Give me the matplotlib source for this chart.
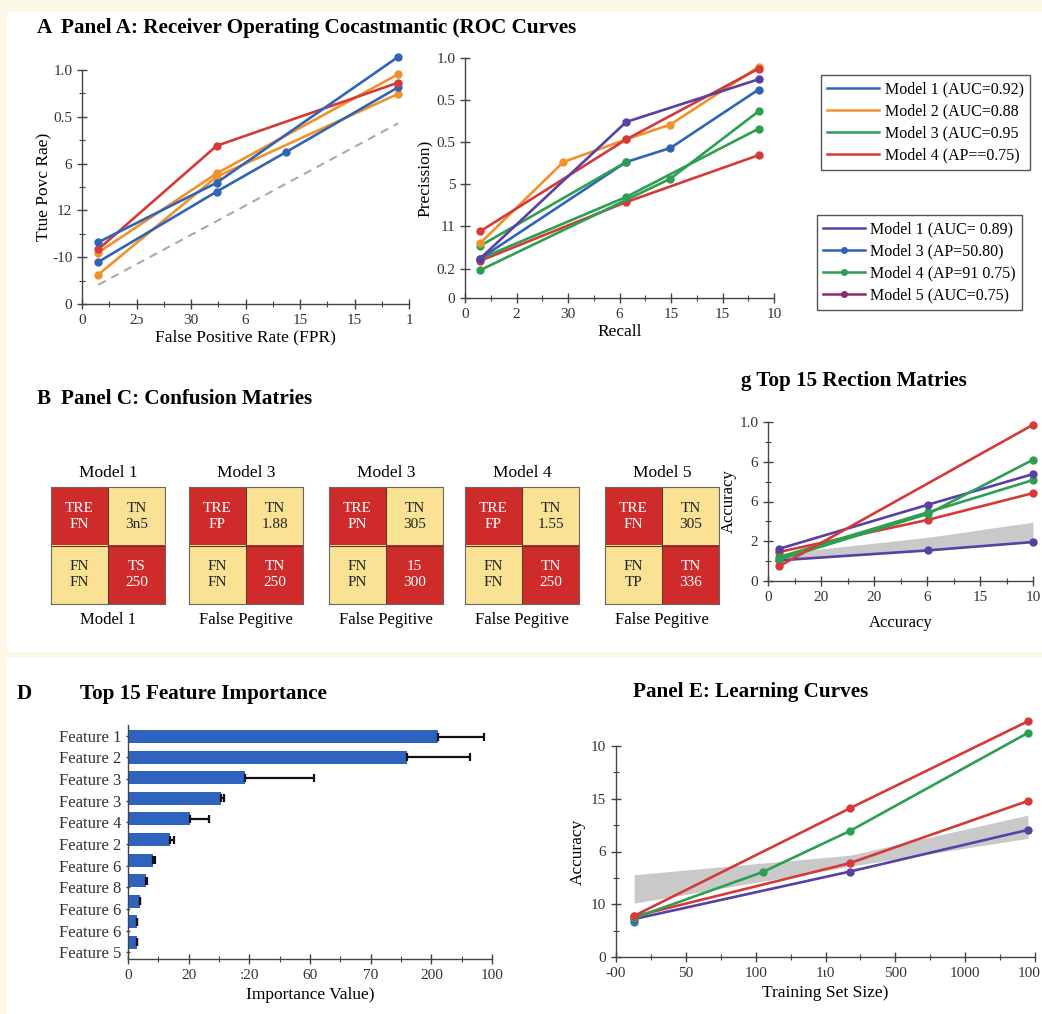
import numpy as np
import matplotlib
matplotlib.use("Agg")
import matplotlib.pyplot as plt
import matplotlib.transforms as mtransforms
from matplotlib.colors import ListedColormap
from matplotlib.lines import Line2D
from matplotlib.patches import Rectangle
from matplotlib.ticker import AutoMinorLocator

plt.rcParams["font.family"] = ["Liberation Serif", "DejaVu Serif"]

BLUE = "#3164b6"
ORANGE = "#f0922c"
GREEN = "#2e9e52"
RED = "#d63a38"
PURPLE = "#5a3fa4"
MAGENTA = "#8b2a6e"
GREY = "#c9c9c9"

# ---- Panel A: ROC curves ----
roc_xticklabels = ["0", "2\u0254", "30", "6", "15", "15", "1"]
roc_yticklabels = ["0", "-10", "12", "6", "0.5", "1.0"]
roc_blue_a_x = [0.30, 2.47, 5.80]
roc_blue_a_y = [1.32, 2.59, 5.28]
roc_blue_b_x = [0.30, 2.47, 3.75, 5.80]
roc_blue_b_y = [0.90, 2.40, 3.25, 4.63]
roc_red_x = [0.30, 2.47, 5.80]
roc_red_y = [1.17, 3.38, 4.73]
roc_orange_a_x = [0.30, 2.47, 5.80]
roc_orange_a_y = [1.10, 2.79, 4.91]
roc_orange_b_x = [0.30, 2.47, 5.80]
roc_orange_b_y = [0.63, 2.72, 4.49]
roc_diag_x = [0.30, 5.80]
roc_diag_y = [0.41, 3.86]

# ---- Panel A: precision-recall ----
pr_xticklabels = ["0", "2", "30", "6", "15", "15", "10"]
pr_yticks = [0, 0.68, 1.68, 2.67, 3.67, 4.65, 5.63]
pr_yticklabels = ["0", "0.2", "11", "5", "0.5", "0.5", "1.0"]
pr_orange_x = [0.29, 1.91, 3.13, 3.99, 5.70]
pr_orange_y = [1.28, 3.19, 3.72, 4.07, 5.42]
pr_purple_x = [0.29, 3.13, 5.70]
pr_purple_y = [0.92, 4.13, 5.13]
pr_red_a_x = [0.29, 3.13, 5.70]
pr_red_a_y = [1.56, 3.72, 5.38]
pr_blue_x = [0.29, 3.13, 3.99, 5.70]
pr_blue_y = [0.92, 3.19, 3.52, 4.89]
pr_green_a_x = [0.29, 3.13]
pr_green_a_y = [1.22, 3.19]
pr_green_b_x = [0.29, 3.99, 5.70]
pr_green_b_y = [0.65, 2.80, 4.38]
pr_green_c_x = [0.29, 3.13, 5.70]
pr_green_c_y = [0.92, 2.37, 3.97]
pr_red_b_x = [0.29, 3.13, 5.70]
pr_red_b_y = [0.87, 2.25, 3.35]

legend1_labels = ["Model 1 (AUC=0.92)", "Model 2 (AUC=0.88", "Model 3 (AUC=0.95", "Model 4 (AP==0.75)"]
legend2_labels = ["Model 1 (AUC= 0.89)", "Model 3 (AP=50.80)", "Model 4 (AP=91 0.75)", "Model 5 (AUC=0.75)"]

# ---- Panel C: confusion matrices ----
cm_titles = ["Model 1", "Model 3", "Model 3", "Model 4", "Model 5"]
cm_bottom = ["Model 1", "False Pegitive", "False Pegitive", "False Pegitive", "False Pegitive"]
cm_cells = [
    ["TRE\nFN", "TN\n3n5", "FN\nFN", "TS\n250"],
    ["TRE\nFP", "TN\n1.88", "FN\nFN", "TN\n250"],
    ["TRE\nPN", "TN\n305", "FN\nPN", "15\n300"],
    ["TRE\nFP", "TN\n1.55", "FN\nFN", "TN\n250"],
    ["TRE\nFN", "TN\n305", "FN\nTP", "TN\n336"],
]

# ---- Panel B (right): metric lines ----
rm_xticklabels = ["0", "20", "20", "6", "15", "10"]
rm_yticklabels = ["0", "2", "6", "6", "1.0"]
rm_x = [0.21, 3.02, 5.0]
rm_red_a = [0.37, 3.93]
rm_green_a = [0.54, 1.69, 3.05]
rm_purple_a = [0.81, 1.92, 2.69]
rm_green_b = [0.60, 1.73, 2.54]
rm_red_b = [0.73, 1.54, 2.21]
rm_purple_b = [0.52, 0.77, 0.98]
rm_band_low = [0.52, 0.77, 0.98]
rm_band_high = [0.69, 1.10, 1.48]

# ---- Panel D: feature importance ----
features = ["Feature 1", "Feature 2", "Feature 3", "Feature 3", "Feature 4", "Feature 2",
            "Feature 6", "Feature 8", "Feature 6", "Feature 6", "Feature 5"]
importance = [5.11, 4.60, 1.93, 1.53, 1.02, 0.69, 0.41, 0.30, 0.19, 0.15, 0.15]
importance_err = [0.76, 1.03, 1.13, 0.05, 0.31, 0.07, 0.04, 0.02, 0.0, 0.0, 0.0]
fi_xticklabels = ["0", "20", ":20", "60", "70", "200", "100"]

# ---- Panel E: learning curves ----
lc_xticklabels = ["-00", "50", "100", "1\u03b90", "500", "1000", "100"]
lc_yticklabels = ["0", "10", "6", "15", "10"]
lc_red_a_x = [0.26, 3.35, 5.90]
lc_red_a_y = [0.78, 2.82, 4.47]
lc_green_x = [0.26, 2.10, 3.35, 5.90]
lc_green_y = [0.74, 1.61, 2.39, 4.25]
lc_red_b_x = [0.26, 3.35, 5.90]
lc_red_b_y = [0.77, 1.78, 2.96]
lc_purple_x = [0.26, 3.35, 5.90]
lc_purple_y = [0.72, 1.62, 2.41]
lc_blue_x = [0.26]
lc_blue_y = [0.67]
lc_band_x = [0.26, 3.35, 5.90]
lc_band_low = [1.02, 1.72, 2.25]
lc_band_high = [1.56, 1.93, 2.69]

W, H = 1042, 1014
fig = plt.figure(figsize=(W / 100, H / 100), dpi=100, facecolor="#fdf8e6")


def box(l, t, r, b):
    return [l / W, 1 - b / H, (r - l) / W, (b - t) / H]


fig.patches.append(Rectangle((7 / W, 1 - 652 / H), 1 - 7 / W, 640 / H,
                             transform=fig.transFigure, facecolor="white", edgecolor="none", zorder=-5))
fig.patches.append(Rectangle((7 / W, 0), 1 - 7 / W, 1 - 657 / H,
                             transform=fig.transFigure, facecolor="white", edgecolor="none", zorder=-5))


def style(ax, minor_y=True):
    for s in ["top", "right"]:
        ax.spines[s].set_visible(False)
    for s in ["left", "bottom"]:
        ax.spines[s].set_color("#444444")
        ax.spines[s].set_linewidth(1.0)
    ax.set_facecolor("none")
    ax.tick_params(which="major", direction="inout", length=7, width=1, colors="#444444",
                   labelsize=11, labelcolor="#333333")
    ax.tick_params(which="minor", direction="inout", length=4, width=0.8, colors="#444444")
    ax.xaxis.set_minor_locator(AutoMinorLocator(2))
    if minor_y:
        ax.yaxis.set_minor_locator(AutoMinorLocator(2))


def curve(ax, x, y, c, ms=5, lw=1.9):
    ax.plot(x, y, color=c, lw=lw, marker="o", ms=ms, clip_on=False)


# Panel A titles
fig.text(37 / W, 1 - 28 / H, "A", fontsize=15.2, fontweight="bold", va="center")
fig.text(61 / W, 1 - 28 / H, "Panel A: Receiver Operating Cocastmantic (ROC Curves",
         fontsize=15.2, fontweight="bold", va="center")

# ROC
ax = fig.add_axes(box(82, 70, 409, 304))
style(ax)
ax.plot(roc_diag_x, roc_diag_y, color="#aaaaaa", lw=1.5, ls=(0, (4, 3)))
curve(ax, roc_orange_b_x, roc_orange_b_y, ORANGE)
curve(ax, roc_orange_a_x, roc_orange_a_y, ORANGE)
curve(ax, roc_blue_b_x, roc_blue_b_y, BLUE)
curve(ax, roc_red_x, roc_red_y, RED)
curve(ax, roc_blue_a_x, roc_blue_a_y, BLUE)
ax.set_xlim(0, 6)
ax.set_ylim(0, 5)
ax.set_xticks(range(7))
ax.set_xticklabels(roc_xticklabels)
ax.set_yticks(range(6))
ax.set_yticklabels(roc_yticklabels)
ax.set_xlabel("False Positive Rate (FPR)", fontsize=12.5, labelpad=2)
ax.set_ylabel("Ttue Povc Rae)", fontsize=12.5, labelpad=0)

# PR
ax = fig.add_axes(box(465, 58, 774, 298))
style(ax, minor_y=False)
curve(ax, pr_red_b_x, pr_red_b_y, RED)
curve(ax, pr_green_c_x, pr_green_c_y, GREEN)
curve(ax, pr_green_b_x, pr_green_b_y, GREEN)
curve(ax, pr_blue_x, pr_blue_y, BLUE)
curve(ax, pr_green_a_x, pr_green_a_y, GREEN)
curve(ax, pr_orange_x, pr_orange_y, ORANGE)
curve(ax, pr_red_a_x, pr_red_a_y, RED)
curve(ax, pr_purple_x, pr_purple_y, PURPLE)
ax.set_xlim(0, 6)
ax.set_ylim(0, 5.63)
ax.set_xticks(range(7))
ax.set_xticklabels(pr_xticklabels)
ax.set_yticks(pr_yticks)
ax.set_yticklabels(pr_yticklabels)
ax.set_xlabel("Recall", fontsize=12.5, labelpad=2)
ax.set_ylabel("Precission)", fontsize=12.5, labelpad=2)

# legends
h1 = [Line2D([], [], color=c, lw=1.8) for c in [BLUE, ORANGE, GREEN, RED]]
leg = fig.legend(h1, legend1_labels, loc="upper left", bbox_to_anchor=(821 / W, 1 - 75 / H),
                 borderaxespad=0, fontsize=11.5, handlelength=3.2, handletextpad=0.4,
                 labelspacing=0.38, borderpad=0.4, fancybox=False, edgecolor="#555555",
                 framealpha=1)
leg.get_frame().set_linewidth(1.0)
h2 = [Line2D([], [], color=PURPLE, lw=1.8)] + \
     [Line2D([], [], color=c, lw=1.8, marker="o", ms=4) for c in [BLUE, GREEN, MAGENTA]]
leg = fig.legend(h2, legend2_labels, loc="upper left", bbox_to_anchor=(817 / W, 1 - 215 / H),
                 borderaxespad=0, fontsize=11.5, handlelength=2.6, handletextpad=0.3,
                 labelspacing=0.38, borderpad=0.4, fancybox=False, edgecolor="#555555",
                 framealpha=1, numpoints=1)
leg.get_frame().set_linewidth(1.0)

# Panel C: confusion matrices
fig.text(37 / W, 1 - 399 / H, "B", fontsize=15.2, fontweight="bold", va="center")
fig.text(61 / W, 1 - 399 / H, "Panel C: Confusion Matries", fontsize=15.2, fontweight="bold", va="center")
cmap = ListedColormap(["#cf2b2b", "#f9e294"])
pattern = np.array([[0, 1], [1, 0]])
cm_left = [51, 189, 329, 465, 605]
for i in range(5):
    ax = fig.add_axes(box(cm_left[i], 487, cm_left[i] + 114, 604))
    ax.imshow(pattern, cmap=cmap, aspect="auto", vmin=0, vmax=1)
    for k, (r, c) in enumerate([(0, 0), (0, 1), (1, 0), (1, 1)]):
        col = "white" if pattern[r, c] == 0 else "#222222"
        ax.text(c, r, cm_cells[i][k], ha="center", va="center", fontsize=11,
                color=col, linespacing=1.3)
    ax.axhline(0.5, color="#5a3a2a", lw=0.8)
    ax.axvline(0.5, color="#5a3a2a", lw=0.8)
    ax.set_xticks([])
    ax.set_yticks([])
    for s in ax.spines.values():
        s.set_color("#666666")
        s.set_linewidth(0.8)
    ax.set_title(cm_titles[i], fontsize=12.5, pad=7)
    ax.set_xlabel(cm_bottom[i], fontsize=12, labelpad=6)

# Panel B right
fig.text(741 / W, 1 - 381 / H, "g Top 15 Rection Matries", fontsize=15.2, fontweight="bold", va="center")
ax = fig.add_axes(box(768, 422, 1033, 581))
style(ax)
ax.fill_between(rm_x, rm_band_low, rm_band_high, color=GREY, lw=0, zorder=1)
curve(ax, rm_x, rm_purple_b, PURPLE, ms=5)
curve(ax, rm_x, rm_red_b, RED, ms=5)
curve(ax, rm_x, rm_green_b, GREEN, ms=5)
curve(ax, rm_x, rm_purple_a, PURPLE, ms=5)
curve(ax, rm_x, rm_green_a, GREEN, ms=5)
curve(ax, [rm_x[0], rm_x[-1]], rm_red_a, RED, ms=5)
ax.set_xlim(0, 5)
ax.set_ylim(0, 4)
ax.set_xticks(range(6))
ax.set_xticklabels(rm_xticklabels)
ax.set_yticks(range(5))
ax.set_yticklabels(rm_yticklabels)
ax.set_xlabel("Accuracy", fontsize=12, labelpad=8)
ax.set_ylabel("Accuracy", fontsize=12, labelpad=2)

# Panel D
fig.text(17 / W, 1 - 694 / H, "D", fontsize=15.2, fontweight="bold", va="center")
fig.text(80 / W, 1 - 694 / H, "Top 15 Feature Importance", fontsize=15.2, fontweight="bold", va="center")
ax = fig.add_axes(box(128, 725, 492, 959))
style(ax, minor_y=False)
ypos = np.arange(len(features))[::-1]
ax.barh(ypos, importance, height=0.63, color="#2e63be", zorder=2)
ax.errorbar(importance, ypos, xerr=[np.zeros(len(importance)), importance_err],
            fmt="none", ecolor="#111111", elinewidth=1.6, capsize=3, capthick=1.6, zorder=3)
ax.set_xlim(0, 6)
ax.set_ylim(-0.81, 10.57)
ax.set_xticks(range(7))
ax.set_xticklabels(fi_xticklabels)
ax.set_yticks(np.linspace(10.05, -0.49, len(features)))
ax.set_yticklabels(features)
ax.tick_params(axis="y", length=3, labelsize=12)
ax.set_xlabel("Importance Value)", fontsize=12.5, labelpad=4)

# Panel E
fig.text(633 / W, 1 - 692 / H, "Panel E: Learning Curves", fontsize=15.2, fontweight="bold", va="center")
ax = fig.add_axes(box(616, 746, 1035, 957))
style(ax)
ax.fill_between(lc_band_x, lc_band_low, lc_band_high, color=GREY, lw=0, zorder=1)
curve(ax, lc_blue_x, lc_blue_y, "#2f7fc0")
curve(ax, lc_purple_x, lc_purple_y, PURPLE)
curve(ax, lc_red_b_x, lc_red_b_y, RED)
curve(ax, lc_green_x, lc_green_y, GREEN)
curve(ax, lc_red_a_x, lc_red_a_y, RED)
ax.set_xlim(0, 6)
ax.set_ylim(0, 4)
ax.set_xticks(range(7))
ax.set_xticklabels(lc_xticklabels)
ax.set_yticks(range(5))
ax.set_yticklabels(lc_yticklabels)
# keep the last tick label inside the figure edge
last = ax.get_xticklabels()[-1]
last.set_transform(last.get_transform() + mtransforms.ScaledTranslation(-6 / 100, 0, fig.dpi_scale_trans))
ax.set_xlabel("Training Set Size)", fontsize=12.5, labelpad=4)
ax.set_ylabel("Accuracy", fontsize=12.5, labelpad=4)

fig.savefig("out.png", dpi=100, facecolor=fig.get_facecolor())
